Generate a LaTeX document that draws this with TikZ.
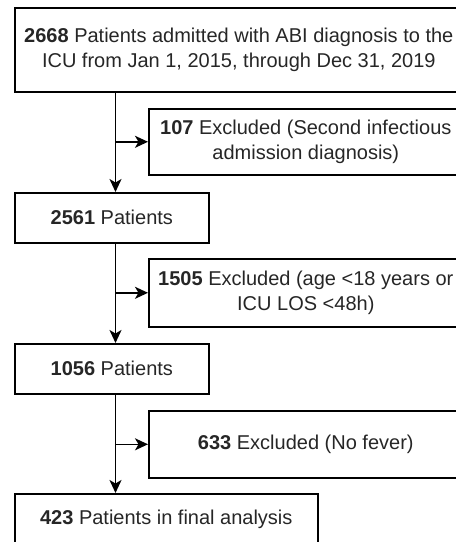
\documentclass[tikz,border=0pt]{standalone}
\usepackage{fontspec}
\setmainfont{Liberation Sans}
\usetikzlibrary{arrows.meta}
\tikzset{
  >={Stealth[length=13pt,width=12pt,inset=3.5pt]},
  box/.style={draw,line width=1.6pt,inner sep=0pt,align=center,anchor=north west,
    text=black!85,font=\fontsize{20}{24.5}\selectfont},
  flow/.style={line width=1.6pt,->},
}
\begin{document}
\begin{tikzpicture}[x=1pt,y=1pt]
  \useasboundingbox (0,0) rectangle (456,-542);
  \clip (0,0) rectangle (456,-542);
  % patient boxes and exclusions
  \node[box,minimum width=448pt,minimum height=84pt] (admitted) at (14,-7)
    {\textbf{2668} Patients admitted with ABI diagnosis to the\\ICU from Jan 1, 2015, through Dec 31, 2019};
  \node[box,minimum width=314pt,minimum height=66pt] (exclA) at (148,-108)
    {\textbf{107} Excluded (Second infectious\\admission diagnosis)};
  \node[box,minimum width=194pt,minimum height=50pt] (pat2) at (14,-192)
    {\textbf{2561} Patients};
  \node[box,minimum width=314pt,minimum height=68pt] (exclB) at (148,-258)
    {\textbf{1505} Excluded (age <18 years or\\ICU LOS <48h)};
  \node[box,minimum width=194pt,minimum height=50pt] (pat3) at (14,-343)
    {\textbf{1056} Patients};
  \node[box,minimum width=314pt,minimum height=67pt] (exclC) at (148,-410)
    {\textbf{633} Excluded (No fever)};
  \node[box,minimum width=303pt,minimum height=52pt] (final) at (14,-493)
    {\textbf{423} Patients in final analysis};
  \coordinate (spine) at (115.5,0);
  % main line
  \draw[flow] (admitted.south -| spine) -- (pat2.north -| spine);
  \draw[flow] (pat2.south -| spine) -- (pat3.north -| spine);
  \draw[flow] (pat3.south -| spine) -- (final.north -| spine);
  % side arrows
  \draw[flow] (exclA.west -| spine) -- (exclA.west);
  \draw[flow] (exclB.west -| spine) -- (exclB.west);
  \draw[flow] (exclC.west -| spine) -- (exclC.west);
\end{tikzpicture}
\end{document}
